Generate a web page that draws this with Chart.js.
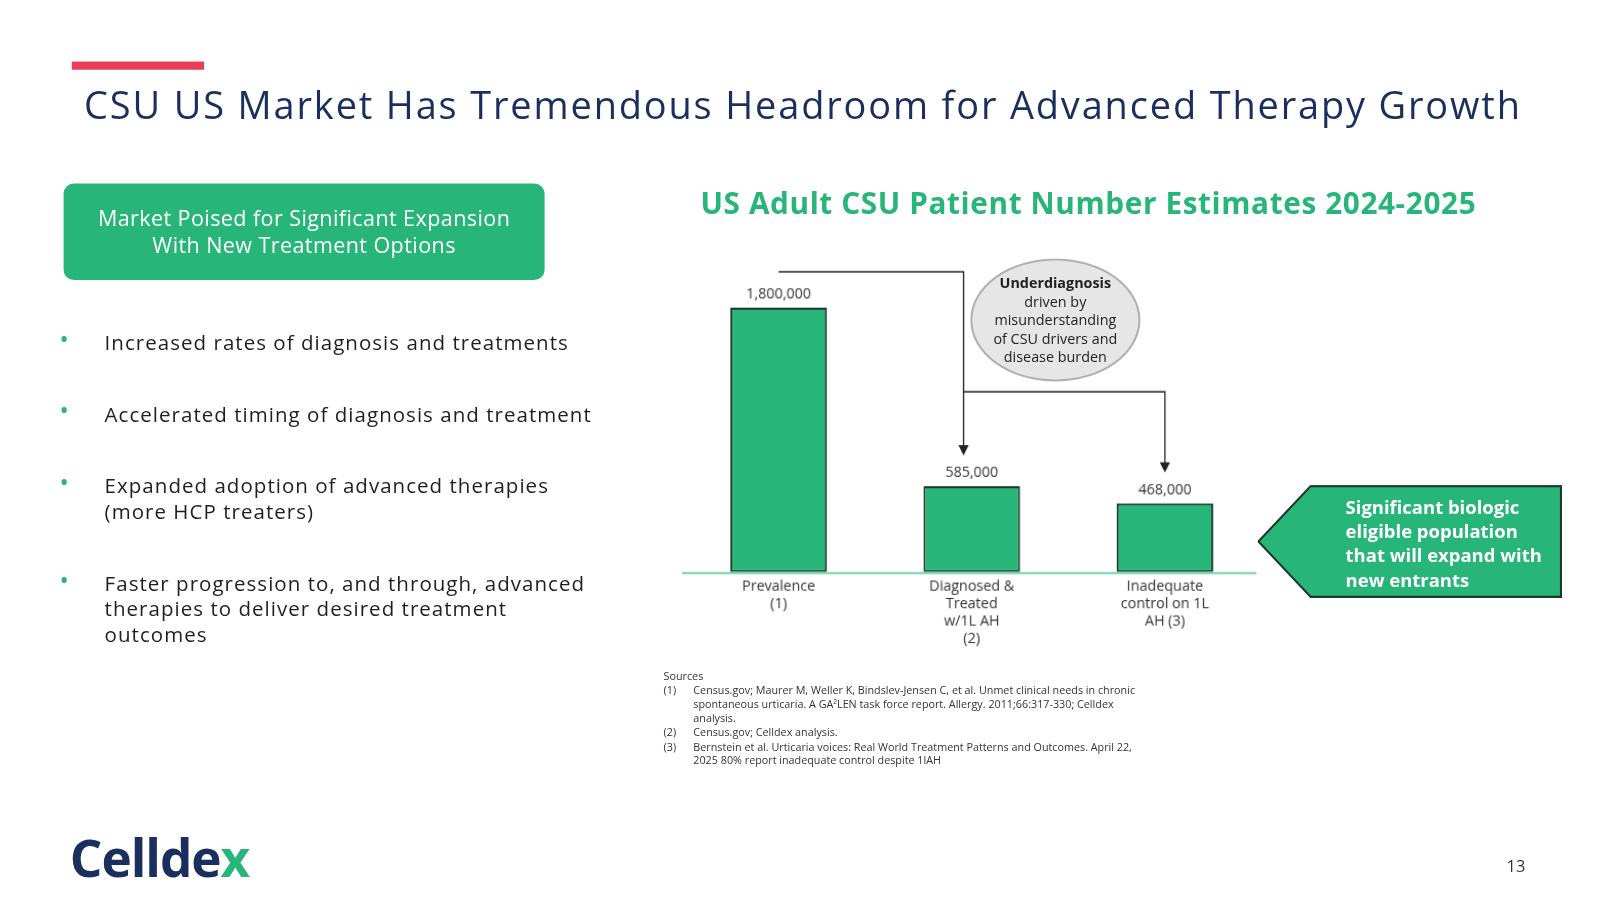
<!DOCTYPE html>
<html><head><meta charset="utf-8">
<script src="https://cdn.jsdelivr.net/npm/chart.js@4"></script>
<style>
body{margin:0;width:1600px;height:900px;background:#fff;font-family:"Open Sans",sans-serif;overflow:hidden}
#wrap{position:absolute;left:0;top:0;width:1560px;height:878px;transform:scale(1.0256);transform-origin:0 0}
.abs{position:absolute}
#title{left:82px;top:76px;font-size:37px;color:#1b2f5e;white-space:nowrap;letter-spacing:1.8px}
#redbar{left:70px;top:60px;width:129px;height:8px;background:#ea3d5a}
#box{left:62px;top:179px;width:469px;height:94px;background:#27b57a;border-radius:10px;color:#fff;font-size:21px;text-align:center;display:flex;align-items:center;justify-content:center;line-height:27px;letter-spacing:0.4px}
.bul{left:58px;font-size:20px;color:#1f1f1f;width:560px;line-height:25px;letter-spacing:1px}
.bul .dot{position:absolute;left:0;top:-4px;color:#27b57a;font-size:24px}
.bul .t{margin-left:44px}
#ctitle{left:683px;top:178px;font-size:29px;font-weight:bold;color:#27b57a;white-space:nowrap;letter-spacing:0.6px}
#ell{left:946px;top:252px;width:166px;height:120px;border-radius:50%;background:#e6e6e6;border:2px solid #b0b0b0;box-sizing:border-box;font-size:14px;color:#222;text-align:center;display:flex;align-items:center;justify-content:center;line-height:18px}
#arrow{left:1226px;top:473px;width:298px;height:110px}
#arrtxt{left:1312px;top:483px;color:#fff;font-weight:bold;font-size:18px;line-height:23.5px}
#src{left:647px;top:653px;font-size:10.5px;color:#333;line-height:13.7px;width:480px}
#src .n{position:absolute;left:0}
#src .s{margin-left:29px}
#logo{left:68px;top:802px;font-size:50px;font-weight:bold;color:#1b2f5e;letter-spacing:-1px}
#pg{left:1469px;top:833px;font-size:16px;color:#333}
</style></head><body><div id="wrap">
<div id="redbar" class="abs"></div>
<div id="title" class="abs">CSU US Market Has Tremendous Headroom for Advanced Therapy Growth</div>
<div id="box" class="abs">Market Poised for Significant Expansion<br>With New Treatment Options</div>
<div class="abs bul" style="top:321px"><span class="dot">•</span><div class="t">Increased rates of diagnosis and treatments</div></div>
<div class="abs bul" style="top:391px"><span class="dot">•</span><div class="t">Accelerated timing of diagnosis and treatment</div></div>
<div class="abs bul" style="top:461px"><span class="dot">•</span><div class="t">Expanded adoption of advanced therapies<br>(more HCP treaters)</div></div>
<div class="abs bul" style="top:556px"><span class="dot">•</span><div class="t">Faster progression to, and through, advanced<br>therapies to deliver desired treatment<br>outcomes</div></div>
<div id="ctitle" class="abs">US Adult CSU Patient Number Estimates 2024-2025</div>
<div class="abs" style="left:665px;top:245px;width:565px;height:392px"><canvas id="c"></canvas></div>
<div id="ell" class="abs"><div><b>Underdiagnosis</b><br>driven by<br>misunderstanding<br>of CSU drivers and<br>disease burden</div></div>
<svg id="arrow" class="abs" viewBox="0 0 298 110"><polygon points="1,55 52,1 296,1 296,109 52,109" fill="#27b57a" stroke="#1a3a2a" stroke-width="2"/></svg>
<div id="arrtxt" class="abs">Significant biologic<br>eligible population<br>that will expand with<br>new entrants</div>
<div id="src" class="abs"><div>Sources</div>
<div style="position:relative"><span class="n">(1)</span><div class="s">Census.gov; Maurer M, Weller K, Bindslev-Jensen C, et al. Unmet clinical needs in chronic spontaneous urticaria. A GA²LEN task force report. Allergy. 2011;66:317-330; Celldex analysis.</div></div>
<div style="position:relative"><span class="n">(2)</span><div class="s">Census.gov; Celldex analysis.</div></div>
<div style="position:relative"><span class="n">(3)</span><div class="s">Bernstein et al. Urticaria voices: Real World Treatment Patterns and Outcomes. April 22, 2025 80% report inadequate control despite 1lAH</div></div></div>
<div id="logo" class="abs">Cellde<span style="color:#27b57a">x</span></div>
<div id="pg" class="abs">13</div>
</div>
<script>
const categories=[["Prevalence","(1)"],["Diagnosed &","Treated","w/1L AH","(2)"],["Inadequate","control on 1L","AH (3)"]];
const values=[1800000,585000,468000];
const valueLabels=["1,800,000","585,000","468,000"];
const ann={id:'ann',afterDatasetsDraw(ch){
 const c=ch.ctx,x=ch.scales.x,y=ch.scales.y;
 c.save();c.font='14px "Open Sans"';c.fillStyle='#333';c.textAlign='center';c.textBaseline='bottom';
 values.forEach((v,i)=>c.fillText(valueLabels[i],x.getPixelForValue(i),y.getPixelForValue(v)-6));
 c.strokeStyle='#222';c.lineWidth=1.3;
 const x0=x.getPixelForValue(0),x1=x.getPixelForValue(1)-8,x2=x.getPixelForValue(2);
 const top=y.getPixelForValue(values[0])-35,mid=y.getPixelForValue(values[0])+82;
 const a1=y.getPixelForValue(values[1])-30,a2=y.getPixelForValue(values[2])-30;
 c.beginPath();c.moveTo(x0,top);c.lineTo(x1,top);c.lineTo(x1,a1-8);c.moveTo(x1,mid);c.lineTo(x2,mid);c.lineTo(x2,a2-8);c.stroke();
 c.fillStyle='#222';
 [[x1,a1],[x2,a2]].forEach(([px,py])=>{c.beginPath();c.moveTo(px-5,py-10);c.lineTo(px+5,py-10);c.lineTo(px,py);c.closePath();c.fill();});
 c.strokeStyle='#6fd3a7';c.lineWidth=2;c.beginPath();c.moveTo(ch.chartArea.left,y.getPixelForValue(0)+1);c.lineTo(ch.chartArea.right-5,y.getPixelForValue(0)+1);c.stroke();
 c.restore();}};
new Chart(document.getElementById('c'),{type:'bar',
 data:{labels:categories,datasets:[{data:values,backgroundColor:'#27b57a',borderColor:'#1a3a2a',borderWidth:2,borderSkipped:false,barPercentage:0.5,categoryPercentage:1}]},
 options:{responsive:true,maintainAspectRatio:false,animation:false,
  layout:{padding:{top:55,left:0,right:0,bottom:0}},
  plugins:{legend:{display:false},tooltip:{enabled:false}},
  scales:{y:{display:false,min:0,max:1800000},
   x:{grid:{display:false,drawTicks:false},border:{display:false},ticks:{font:{size:14,family:'"Open Sans"'},color:'#333',padding:6}}}},
 plugins:[ann]});
</script></body></html>
